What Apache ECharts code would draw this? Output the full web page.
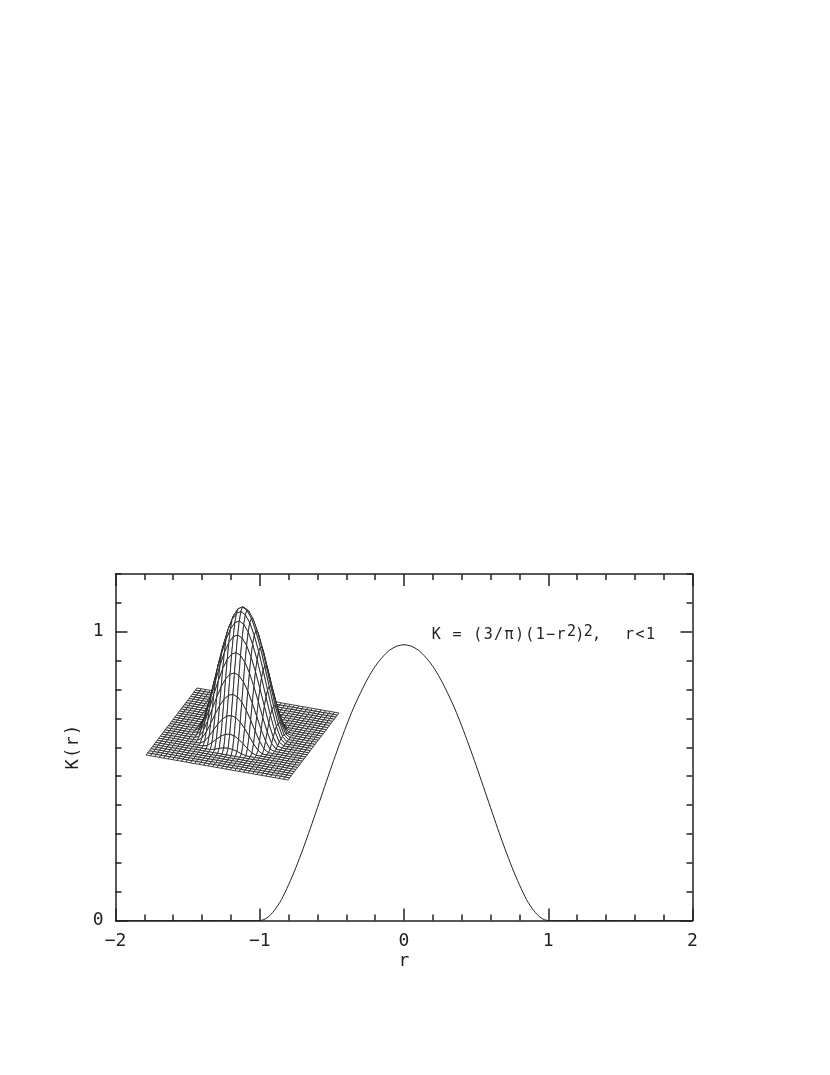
<!DOCTYPE html>
<html><head><meta charset="utf-8">
<style>html,body{margin:0;padding:0;background:#fff}#c{width:830px;height:1075px}</style>
<script src="https://cdn.jsdelivr.net/npm/echarts@6/dist/echarts.min.js"></script>
</head><body><div id="c"></div>
<script>
const rValues = [-2,-1.5,-1.1,-1,-0.95,-0.9,-0.85,-0.8,-0.75,-0.7,-0.65,-0.6,-0.55,-0.5,-0.45,-0.4,-0.35,-0.3,-0.25,-0.2,-0.15,-0.1,-0.05,0,0.05,0.1,0.15,0.2,0.25,0.3,0.35,0.4,0.45,0.5,0.55,0.6,0.65,0.7,0.75,0.8,0.85,0.9,0.95,1,1.1,1.5,2];
const kValues = [0,0,0,0,0.009,0.034,0.072,0.124,0.183,0.248,0.318,0.391,0.464,0.537,0.607,0.674,0.736,0.790,0.839,0.880,0.912,0.936,0.950,0.955,0.950,0.936,0.912,0.880,0.839,0.790,0.736,0.674,0.607,0.537,0.464,0.391,0.318,0.248,0.183,0.124,0.072,0.034,0.009,0,0,0,0];
const xMajorTicks = [-2,-1,0,1,2];
const yMajorTicks = [0,1];
const xTickLabels = ['\u22122','\u22121','0','1','2'];
const yTickLabels = ['0','1'];
// Inset surface: height against squared grid distance from the peak (0..100)
const surfaceHeights = [1,.98,.96,.941,.922,.903,.884,.865,.846,.828,.81,.792,.774,.757,.74,.723,.706,.689,.672,.656,.64,.624,.608,.593,.578,.563,.548,.533,.518,.504,.49,.476,.462,.449,.436,.423,.41,.397,.384,.372,.36,.348,.336,.325,.314,.303,.292,.281,.27,.26,.25,.24,.23,.221,.212,.203,.194,.185,.176,.168,.16,.152,.144,.137,.13,.123,.116,.109,.102,.096,.09,.084,.078,.073,.068,.063,.058,.053,.048,.044,.04,.036,.032,.029,.026,.023,.02,.017,.014,.012,.01,.008,.006,.005,.004,.003,.002,.001,0,0,0];
const surfaceCells = 32;

const FONT = '"DejaVu Sans Mono"';
const INK = '#222';
const rect = {left:115.5, top:574, width:577, height:346.5};
const lineStyle = {color:INK, width:1.5};
const textStyle = {fontFamily:FONT, fontSize:18, color:'#222'};

function heightAt(i,j){
  const a=i-surfaceCells/2,b=j-surfaceCells/2,k=a*a+b*b;
  return k<surfaceHeights.length?surfaceHeights[k]:0;
}
const cells=[];
for(let j=surfaceCells-1;j>=0;j--) for(let i=0;i<surfaceCells;i++)
  cells.push([i,j,heightAt(i,j),heightAt(i+1,j),heightAt(i+1,j+1),heightAt(i,j+1)]);
const project=(i,j,h)=>[(142*i+51*j)/surfaceCells, 25+(-25*i+67*j)/surfaceCells+127*h];

const spaced=(s,tok)=>Array.from(s).map(c=>`{${tok}|${c}}`).join('');
const baseX={min:-2,max:2,gridIndex:0,splitLine:{show:false}};
const baseY={min:0,max:1.2,gridIndex:0,splitLine:{show:false}};
const minorTick={show:true,inside:true,length:6,lineStyle};
const majorTick={show:true,inside:true,length:12,lineStyle};
const xAxes=[
 {...baseX,type:'value',position:'bottom',interval:0.2,axisLine:{show:true,onZero:false,lineStyle},axisTick:minorTick,axisLabel:{show:false}},
 {...baseX,type:'value',position:'top',interval:0.2,axisLine:{show:true,onZero:false,lineStyle},axisTick:minorTick,axisLabel:{show:false}},
 {...baseX,type:'value',gridIndex:1,position:'bottom',interval:1,axisLine:{show:false,onZero:false},axisTick:{...majorTick,customValues:xMajorTicks},
  axisLabel:{show:true,margin:12,...textStyle,customValues:xMajorTicks,showMinLabel:true,showMaxLabel:true,formatter:v=>xTickLabels[xMajorTicks.indexOf(v)]},
  name:'r',nameLocation:'middle',nameGap:32,nameTextStyle:textStyle},
 {...baseX,type:'value',gridIndex:1,position:'top',interval:1,axisLine:{show:false,onZero:false},axisTick:{...majorTick,customValues:xMajorTicks},axisLabel:{show:false}},
 {type:'value',gridIndex:2,min:0,max:192,show:false}
];
const yAxes=[
 {...baseY,type:'value',position:'left',interval:0.1,axisLine:{show:true,onZero:false,lineStyle},axisTick:minorTick,axisLabel:{show:false}},
 {...baseY,type:'value',position:'right',interval:0.1,axisLine:{show:true,onZero:false,lineStyle},axisTick:minorTick,axisLabel:{show:false}},
 {...baseY,type:'value',gridIndex:1,position:'left',interval:1,axisLine:{show:false,onZero:false},axisTick:{...majorTick,customValues:yMajorTicks},
  axisLabel:{show:true,margin:12,...textStyle,padding:[8,0,0,0],customValues:yMajorTicks,showMinLabel:true,formatter:v=>yTickLabels[yMajorTicks.indexOf(v)]},
  name:spaced('K(r)','n'),nameLocation:'middle',nameGap:33,nameTextStyle:{rich:{n:{fontFamily:FONT,fontSize:17,color:'#222',width:11.5,align:'center'}}}},
 {...baseY,type:'value',gridIndex:1,position:'right',interval:1,axisLine:{show:false,onZero:false},axisTick:{...majorTick,customValues:yMajorTicks},axisLabel:{show:false}},
 {type:'value',gridIndex:2,min:0,max:180,show:false}
];
const tokStyle={fontFamily:FONT,color:'#222',align:'center',fontWeight:'normal',fontSize:15,lineHeight:18,verticalAlign:'bottom'};
const chart=echarts.init(document.getElementById('c'),null,{renderer:'canvas'});
chart.setOption({
 animation:false,backgroundColor:'#fff',
 grid:[rect,rect,{left:146,top:600,width:192,height:180}],
 xAxis:xAxes,yAxis:yAxes,
 title:{left:431,top:625,padding:0,
  text:spaced('K = (3/\u03c0)(1\u2212r','a')+'{s|2}{p|)}{s|2}{q|,}{g| }'+spaced('r<1','a'),
  textStyle:{fontWeight:'normal',rich:{
    a:{...tokStyle,width:10.4},
    p:{...tokStyle,width:6.4},
    q:{...tokStyle,width:6},
    g:{...tokStyle,width:25},
    s:{...tokStyle,width:10.4,verticalAlign:'top'}}}},
 series:[
  {type:'custom',xAxisIndex:4,yAxisIndex:4,coordinateSystem:'cartesian2d',clip:false,silent:true,z:3,
   encode:{x:0,y:1},
   data:cells,
   renderItem(params,api){
     const i=api.value(0),j=api.value(1);
     const pts=[project(i,j,api.value(2)),project(i+1,j,api.value(3)),project(i+1,j+1,api.value(4)),project(i,j+1,api.value(5))].map(p=>api.coord(p));
     return {type:'polygon',shape:{points:pts},style:{fill:'#fff',stroke:'#222',lineWidth:0.85}};
   }},
  {type:'line',xAxisIndex:0,yAxisIndex:0,data:rValues.map((r,i)=>[r,kValues[i]]),smooth:0.3,showSymbol:false,symbol:'none',silent:true,z:4,lineStyle:{color:'#222',width:1}}
 ]
});
</script></body></html>
